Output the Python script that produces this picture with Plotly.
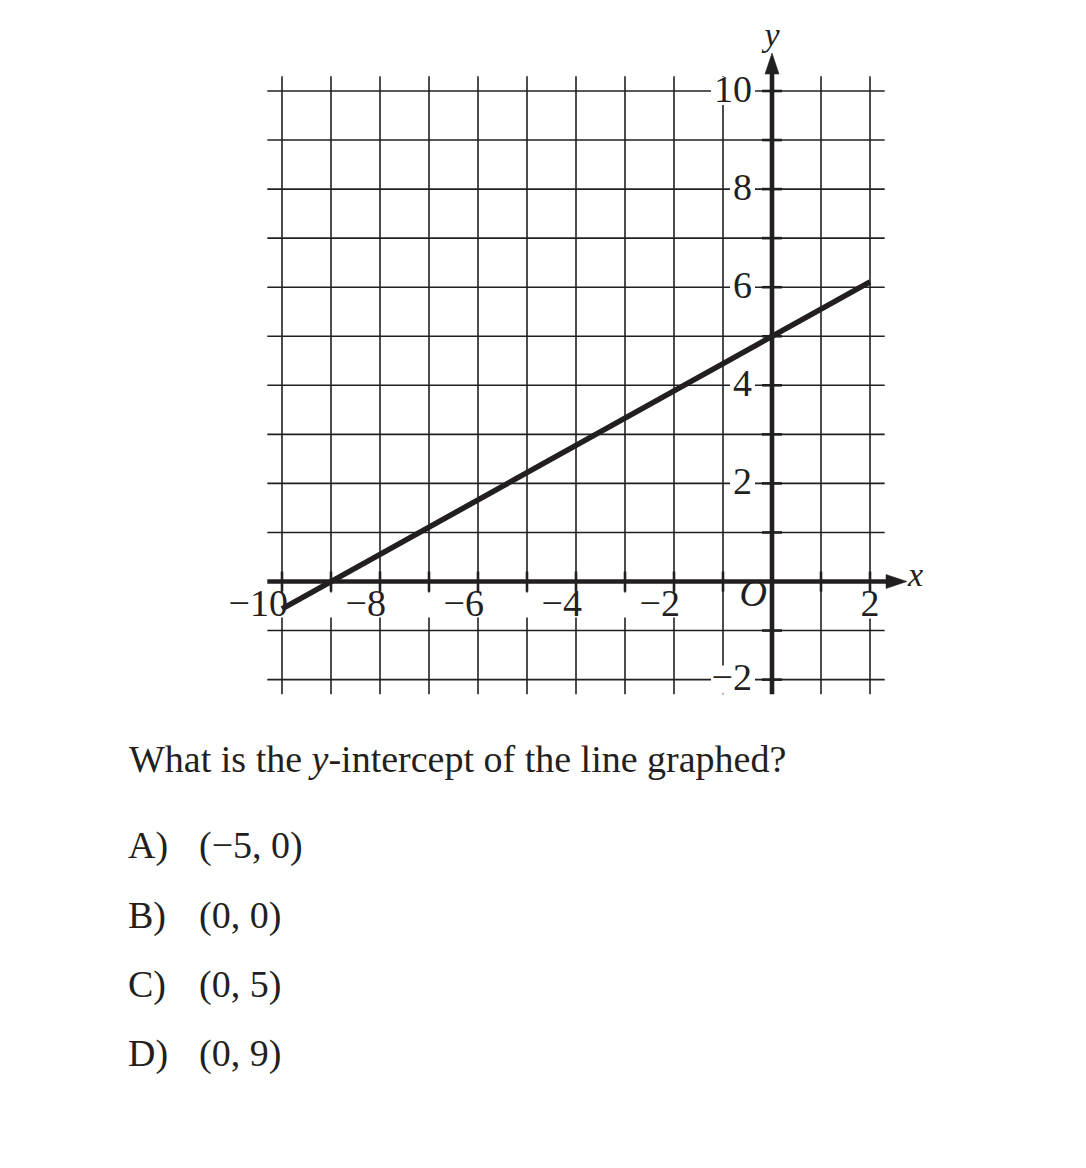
import plotly.graph_objects as go

# ---------------- data ----------------
grid_x = list(range(-10, 3))            # vertical grid lines (x = -10 .. 2)
grid_y = list(range(-2, 11))            # horizontal grid lines (y = -2 .. 10)
x_label_vals = [-10, -8, -6, -4, -2]
x_label_text = ["−10", "−8", "−6", "−4", "−2"]
x_pos_label_vals = [2]
x_pos_label_text = ["2"]
y_label_vals = [10, 8, 6, 4, 2, -2]
y_label_text = ["10", "8", "6", "4", "2", "−2"]
line_x = [-10, 2]
line_y = [-0.56, 6.11]
question = "What is the <i>y</i>-intercept of the line graphed?"
choice_letters = ["A)", "B)", "C)", "D)"]
choice_values = ["(−5, 0)", "(0, 0)", "(0, 5)", "(0, 9)"]

# ---------------- geometry / style ----------------
OFF = 8                       # default page margin of the html body
W, H = 1086 - OFF, 1168 - OFF
PX0, PY0 = 772.0 - OFF, 581.5 - OFF   # pixel position of the origin (figure coords)
UX, UY = 49.0, 49.05                  # pixels per unit
INK = "#231f20"
FONT = "Liberation Serif"
EXT = 0.3                    # grid overhang beyond last line

xr = [-PX0 / UX, (W - PX0) / UX]
yr = [(PY0 - H) / UY, PY0 / UY]

def px_x(p):   # page pixel -> paper
    return (p - OFF) / W

def px_y(p):
    return 1 - (p - OFF) / H

gx0, gx1 = grid_x[0] - EXT, grid_x[-1] + EXT
gy0, gy1 = grid_y[0] - EXT, grid_y[-1] + EXT

fig = go.Figure()

# grid lines
gxs, gys = [], []
for v in grid_x:
    if v == 0:
        continue
    gxs += [v, v, None]
    gys += [gy0, gy1, None]
for v in grid_y:
    if v == 0:
        continue
    gxs += [gx0, gx1, None]
    gys += [v, v, None]
fig.add_trace(go.Scatter(x=gxs, y=gys, mode="lines", line=dict(color=INK, width=1.6),
                         hoverinfo="skip", showlegend=False))

# tick marks on axes
tl = 10 / UY
txs, tys = [], []
for v in grid_x:
    if v == 0:
        continue
    txs += [v, v, None]
    tys += [-tl, tl, None]
tlx = 10 / UX
for v in grid_y:
    if v == 0:
        continue
    txs += [-tlx, tlx, None]
    tys += [v, v, None]
fig.add_trace(go.Scatter(x=txs, y=tys, mode="lines", line=dict(color=INK, width=2.6),
                         hoverinfo="skip", showlegend=False))

# white backgrounds behind labels
bx, by = [], []
def box(x0, x1, y0, y1):
    bx.extend([x0, x1, x1, x0, x0, None])
    by.extend([y0, y0, y1, y1, y0, None])

box(gx0, -1.5, -11 / UY, -36 / UY)                     # band under negative x labels
box(2 - 11 / UX, 2 + 11 / UX, -11 / UY, -37 / UY)      # positive x label
lab_right = -20 / UX
for v, t in zip(y_label_vals, y_label_text):
    wpx = 19 * len(t) + 3
    box(lab_right - wpx / UX, lab_right + 3 / UX, v - 14 / UY, v + 14 / UY)
box(-30 / UX, -4 / UX, -2 / UY, -30 / UY)              # origin label
fig.add_trace(go.Scatter(x=bx, y=by, mode="lines", fill="toself", fillcolor="white",
                         line=dict(width=0, color="white"), hoverinfo="skip", showlegend=False))

# tick labels
tf = dict(family=FONT, size=38, color=INK)
fig.add_trace(go.Scatter(x=[v + 6 / UX for v in x_label_vals], y=[-25 / UY] * len(x_label_vals),
                         text=x_label_text, mode="text", textposition="middle left",
                         textfont=tf, hoverinfo="skip", showlegend=False))
fig.add_trace(go.Scatter(x=x_pos_label_vals, y=[-25 / UY] * len(x_pos_label_vals),
                         text=x_pos_label_text, mode="text", textposition="middle center",
                         textfont=tf, hoverinfo="skip", showlegend=False))
fig.add_trace(go.Scatter(x=[lab_right] * len(y_label_vals), y=[v - 1 / UY for v in y_label_vals],
                         text=y_label_text, mode="text", textposition="middle left",
                         textfont=tf, hoverinfo="skip", showlegend=False))
fig.add_trace(go.Scatter(x=[-5 / UX], y=[-15 / UY], text=["<i>O</i>"], mode="text",
                         textposition="middle left", textfont=tf, hoverinfo="skip", showlegend=False))

# axes
x_tip = (907 - 772) / UX
y_tip = (581.5 - 53) / UY
fig.add_trace(go.Scatter(x=[gx0, x_tip - 0.2], y=[0, 0], mode="lines",
                         line=dict(color=INK, width=4.6), hoverinfo="skip", showlegend=False))
fig.add_trace(go.Scatter(x=[0, 0], y=[gy0, y_tip - 0.2], mode="lines",
                         line=dict(color=INK, width=4.6), hoverinfo="skip", showlegend=False))
ah_len_x, ah_w_y = 21 / UX, 7 / UY
ah_len_y, ah_w_x = 21 / UY, 7 / UX
fig.add_trace(go.Scatter(x=[x_tip - ah_len_x, x_tip, x_tip - ah_len_x, x_tip - ah_len_x],
                         y=[ah_w_y, 0, -ah_w_y, ah_w_y], mode="lines", fill="toself",
                         fillcolor=INK, line=dict(color=INK, width=0.5), hoverinfo="skip", showlegend=False))
fig.add_trace(go.Scatter(x=[-ah_w_x, 0, ah_w_x, -ah_w_x],
                         y=[y_tip - ah_len_y, y_tip, y_tip - ah_len_y, y_tip - ah_len_y], mode="lines",
                         fill="toself", fillcolor=INK, line=dict(color=INK, width=0.5),
                         hoverinfo="skip", showlegend=False))
# axis names
af = dict(family=FONT, size=34, color=INK)
fig.add_trace(go.Scatter(x=[x_tip + 1 / UX], y=[4 / UY], text=["<i>x</i>"], mode="text",
                         textposition="middle right", textfont=af, hoverinfo="skip", showlegend=False))
fig.add_trace(go.Scatter(x=[0], y=[y_tip + 16 / UY], text=["<i>y</i>"], mode="text",
                         textposition="middle center", textfont=af, hoverinfo="skip", showlegend=False))

# the graphed line
fig.add_trace(go.Scatter(x=line_x, y=line_y, mode="lines", line=dict(color=INK, width=5.5),
                         hoverinfo="skip", showlegend=False))

# question and choices
qf = dict(family=FONT, size=38, color=INK)
ann = [dict(text=question, x=px_x(127), y=px_y(759), xref="paper", yref="paper",
            xanchor="left", yanchor="middle", showarrow=False, font=qf)]
for i, (l, v) in enumerate(zip(choice_letters, choice_values)):
    yc = 846 + 69 * i
    ann.append(dict(text=l, x=px_x(126), y=px_y(yc), xref="paper", yref="paper",
                    xanchor="left", yanchor="middle", showarrow=False, font=qf))
    ann.append(dict(text=v, x=px_x(197), y=px_y(yc), xref="paper", yref="paper",
                    xanchor="left", yanchor="middle", showarrow=False, font=qf))

fig.update_layout(
    width=W, height=H, autosize=False,
    margin=dict(l=0, r=0, t=0, b=0, pad=0),
    paper_bgcolor="white", plot_bgcolor="white",
    xaxis=dict(range=xr, visible=False, fixedrange=True),
    yaxis=dict(range=yr, visible=False, fixedrange=True),
    annotations=ann,
    showlegend=False,
)

fig.write_html("out.html")
